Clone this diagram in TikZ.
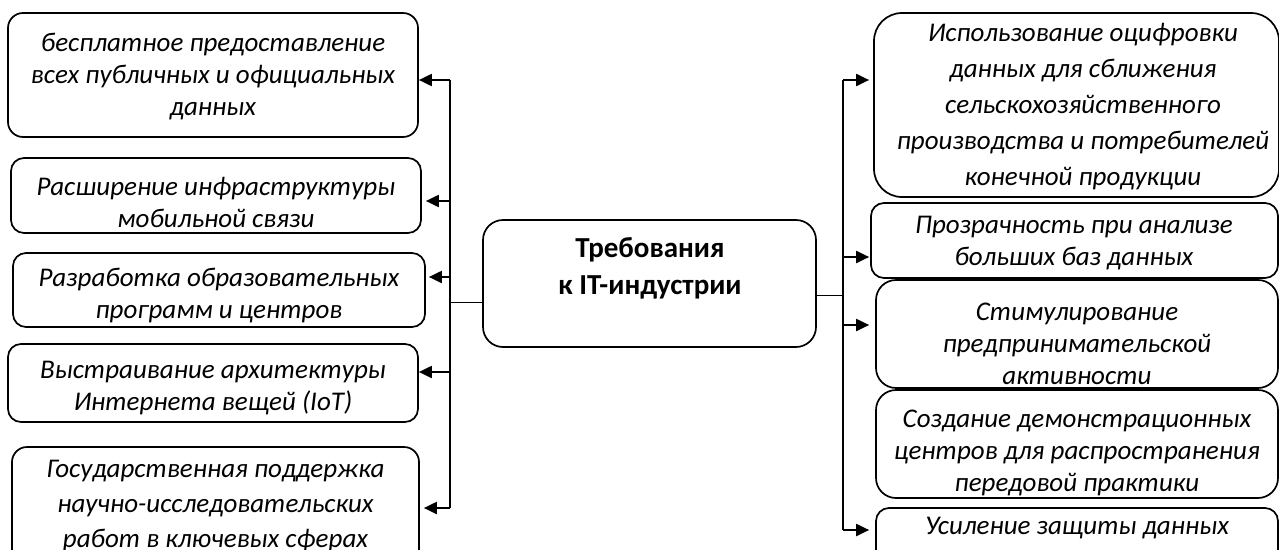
\documentclass[tikz,border=0pt]{standalone}
\usepackage{fontspec}
\setmainfont{Carlito}
\usetikzlibrary{arrows.meta}
\begin{document}
\begin{tikzpicture}[x=1pt,y=-1pt,
  box/.style={draw, line width=1.7pt, rounded corners=#1, inner sep=0pt},
  box/.default=15pt,
  txt/.style={align=center, font=\fontsize{27}{#1}\selectfont\itshape, inner sep=0pt},
  txt/.default=32,
  ctxt/.style={align=center, font=\fontsize{29}{37}\selectfont\bfseries, inner sep=0pt},
  arr/.style={line width=2pt, -{Triangle[length=13pt,width=12pt]}},
  trunk/.style={line width=2.2pt},
  feed/.style={line width=1pt}]
\path[use as bounding box] (0,0) rectangle (1279,549);
\clip (0,0) rectangle (1279,549);

% centre
\node[box=20pt, minimum width=333pt, minimum height=127pt] (C) at (649.5,283.5) {};
\node[ctxt] (tC) at (650,268) {Требования\\к IT-индустрии};

% left boxes
\node[box=15pt, minimum width=410pt, minimum height=124pt] (L1) at (213,75) {};
\node[txt] (tL1) at (213,77) {бесплатное предоставление\\всех публичных и официальных\\данных};
\node[box=13pt, minimum width=410pt, minimum height=75pt] (L2) at (216,195.5) {};
\node[txt] (tL2) at (216,202) {Расширение инфраструктуры\\мобильной связи};
\node[box=13pt, minimum width=412pt, minimum height=74pt] (L3) at (219,290) {};
\node[txt] (tL3) at (219,296) {Разработка образовательных\\программ и центров};
\node[box=13pt, minimum width=410pt, minimum height=78pt] (L4) at (213,383) {};
\node[txt] (tL4) at (213,388) {Выстраивание архитектуры\\Интернета вещей (IoT)};
\node[box=15pt, minimum width=407pt, minimum height=120pt] (L5) at (215.5,507) {};
\node[txt=35] (tL5) at (215.5,506) {Государственная поддержка\\научно-исследовательских\\работ в ключевых сферах};

% right boxes
\node[box=28pt, minimum width=405pt, minimum height=184pt] (R1) at (1076.5,105) {};
\node[txt=36] (tR1) at (1083,107) {Использование оцифровки\\данных для сближения\\сельскохозяйственного\\производства и потребителей\\конечной продукции};
\node[box=13pt, minimum width=407pt, minimum height=75pt] (R2) at (1074.5,240.5) {};
\node[txt] (tR2) at (1074,243) {Прозрачность при анализе\\больших баз данных};
\node[box=20pt, minimum width=402pt, minimum height=108pt] (R3) at (1077,334) {};
\node[txt] (tR3) at (1077,344) {Стимулирование\\предпринимательской\\активности};
\node[box=20pt, minimum width=402pt, minimum height=108pt] (R4) at (1077,444) {};
\node[txt] (tR4) at (1077,453) {Создание демонстрационных\\центров для распространения\\передовой практики};
\node[box=13pt, minimum width=402pt, minimum height=70pt] (R5) at (1077,543) {};
\node[txt] (tR5) at (1077,528) {Усиление защиты данных};

% left connectors
\coordinate (jl) at (450,302);
\coordinate (a1) at (450,80);
\coordinate (a2) at (450,201);
\coordinate (a3) at (450,277);
\coordinate (a4) at (450,372);
\coordinate (a5) at (450,508);
\draw[feed] (C.west |- jl) -- (jl);
\draw[trunk] (a1) -- (a5);
\draw[arr] (a1) -- (a1 -| L1.east);
\draw[arr] (a2) -- ([xshift=4pt]a2 -| L2.east);
\draw[arr] (a3) -- ([xshift=3pt]a3 -| L3.east);
\draw[arr] (a4) -- (a4 -| L4.east);
\draw[arr] (a5) -- ([xshift=4pt]a5 -| L5.east);

% right connectors
\coordinate (jr) at (843,295);
\coordinate (b1) at (843,80);
\coordinate (b2) at (843,257);
\coordinate (b3) at (843,325);
\coordinate (b5) at (843,530);
\draw[feed] (C.east |- jr) -- (jr);
\draw[trunk] (b1) -- (b5);
\draw[arr] (b1) -- ([xshift=-4pt]b1 -| R1.west);
\draw[arr] (b2) -- ([xshift=-1pt]b2 -| R2.west);
\draw[arr] (b3) -- ([xshift=-6pt]b3 -| R3.west);
\draw[arr] (b5) -- ([xshift=-6pt]b5 -| R5.west);
\end{tikzpicture}
\end{document}
